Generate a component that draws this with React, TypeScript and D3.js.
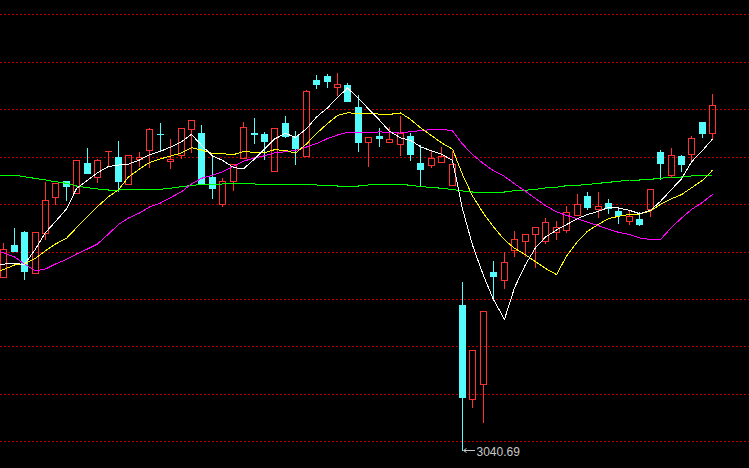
import React from 'react';
import * as d3 from 'd3';

const W = 749;
const H = 468;

const openP = [3109.78, 3122.58, 3127.9, 3111.38, 3127.38, 3142.02, 3148.3, 3143.62, 3155.5, 3149.78,
  3160.18, 3157.9, 3146.98, 3156.98, 3160.7, 3167.1, 3156.1, 3158.7, 3168.98, 3167.5,
  3150.02, 3139.1, 3148.42, 3157.62, 3167.3, 3167.1, 3152.42, 3171.5, 3166.3, 3158.42,
  3188.7, 3190.3, 3186.02, 3186.7, 3177.9, 3163.78, 3166.1, 3163.78, 3162.98, 3166.3,
  3155.62, 3154.58, 3155.9, 3146.58, 3098.7, 3060.98, 3066.98, 3111.9, 3108.58, 3120.82,
  3124.18, 3126.98, 3124.42, 3127.78, 3128.7, 3134.82, 3142.3, 3137.18, 3139.5, 3136.3,
  3132.3, 3133.1, 3137.18, 3159.9, 3150.82, 3158.3, 3158.98, 3171.9, 3167.38];
const highP = [3123.38, 3129.5, 3128.18, 3127.9, 3147.9, 3147.5, 3148.3, 3156.7, 3161.5, 3157.22,
  3160.18, 3164.3, 3158.7, 3159.78, 3169.38, 3171.38, 3164.98, 3169.5, 3172.58, 3170.7,
  3158.02, 3149.62, 3155.1, 3171.9, 3173.38, 3168.02, 3169.38, 3174.3, 3168.3, 3184.7,
  3190.82, 3191.1, 3191.5, 3187.62, 3182.7, 3165.78, 3169.38, 3169.78, 3174.3, 3167.38,
  3162.7, 3160.58, 3161.9, 3160.3, 3107.78, 3080.58, 3096.18, 3116.3, 3119.9, 3128.42,
  3126.98, 3129.78, 3133.5, 3132.3, 3138.3, 3143.1, 3143.9, 3143.78, 3141.1, 3137.9,
  3136.3, 3135.9, 3144.98, 3160.7, 3161.38, 3158.82, 3166.3, 3171.9, 3183.1];
const lowP = [3109.78, 3120.42, 3109.1, 3111.38, 3125.22, 3139.1, 3140.7, 3143.5, 3151.62, 3147.9,
  3154.7, 3144.42, 3146.98, 3154.3, 3154.02, 3160.7, 3153.7, 3157.5, 3159.78, 3147.1,
  3141.38, 3138.42, 3144.7, 3157.5, 3163.62, 3157.1, 3152.42, 3165.9, 3154.98, 3158.42,
  3185.5, 3186.02, 3182.82, 3180.3, 3160.42, 3154.42, 3162.3, 3163.78, 3158.7, 3156.82,
  3146.42, 3154.02, 3155.9, 3146.58, 3040.69, 3058.02, 3052.02, 3102.02, 3105.62, 3118.3,
  3118.3, 3114.02, 3123.62, 3125.22, 3128.02, 3134.82, 3136.98, 3133.9, 3135.38, 3131.62,
  3130.98, 3130.7, 3134.42, 3148.98, 3150.02, 3152.42, 3156.7, 3166.02, 3165.1];
const closeP = [3120.98, 3120.42, 3112.42, 3127.9, 3140.7, 3147.38, 3146.18, 3156.58, 3151.62, 3156.58,
  3160.18, 3148.42, 3158.58, 3158.02, 3168.98, 3166.9, 3156.9, 3169.38, 3172.58, 3147.1,
  3145.62, 3148.18, 3154.98, 3169.78, 3166.9, 3164.42, 3169.38, 3166.3, 3161.62, 3184.18,
  3187.1, 3188.42, 3187.1, 3180.42, 3164.02, 3165.78, 3165.7, 3164.98, 3167.38, 3158.98,
  3152.98, 3157.38, 3158.3, 3155.1, 3062.02, 3080.58, 3096.18, 3110.42, 3115.78, 3124.98,
  3126.98, 3129.78, 3131.78, 3130.02, 3135.78, 3138.98, 3137.9, 3138.3, 3137.62, 3134.7,
  3134.3, 3131.22, 3144.98, 3155.62, 3158.58, 3155.22, 3165.38, 3167.62, 3178.7];

const ma5 = [3114.98, 3115.3, 3114.9, 3121.1, 3127.7, 3132.1, 3137.1, 3145.3, 3148.58, 3151.58,
  3154.1, 3154.66, 3155.06, 3156.7, 3158.82, 3160.18, 3161.86, 3164.02, 3166.94, 3162.58,
  3158.3, 3156.58, 3153.7, 3153.14, 3157.1, 3161.1, 3165.1, 3167.34, 3165.74, 3169.18,
  3173.9, 3177.54, 3181.7, 3185.46, 3181.42, 3177.14, 3172.62, 3168.18, 3165.58, 3164.58,
  3162.02, 3160.34, 3159.02, 3156.54, 3137.14, 3122.66, 3110.42, 3100.86, 3092.98, 3105.58,
  3114.86, 3121.58, 3125.86, 3128.7, 3130.86, 3133.26, 3134.9, 3136.18, 3137.7, 3137.5,
  3136.58, 3135.22, 3136.58, 3140.18, 3144.94, 3149.14, 3155.94, 3160.5, 3165.1];
const ma10 = [3112.3, 3114.7, 3115.1, 3117.38, 3120.42, 3123.1, 3125.38, 3129.62, 3134.02, 3138.06,
  3141.98, 3144.78, 3149.9, 3153.1, 3155.7, 3157.18, 3158.26, 3159.54, 3161.66, 3160.7,
  3159.26, 3159.22, 3158.86, 3160.02, 3159.82, 3159.58, 3160.82, 3160.54, 3159.42, 3163.14,
  3167.3, 3171.3, 3174.5, 3175.58, 3175.3, 3175.42, 3175.06, 3174.94, 3175.5, 3172.98,
  3169.58, 3166.46, 3163.58, 3161.06, 3150.86, 3142.34, 3135.38, 3129.94, 3124.78, 3121.38,
  3118.78, 3116.02, 3113.34, 3110.86, 3118.22, 3124.06, 3128.22, 3131.02, 3133.22, 3134.18,
  3134.9, 3135.06, 3136.38, 3138.94, 3141.22, 3142.86, 3145.58, 3148.54, 3152.62];
const ma20 = [3120.1, 3117.9, 3115.1, 3112.3, 3113.1, 3115.1, 3116.9, 3119.1, 3121.1, 3123.1,
  3127.1, 3130.9, 3133.5, 3135.5, 3137.9, 3139.5, 3141.62, 3144.02, 3147.1, 3149.38,
  3150.62, 3152.02, 3154.14, 3156.22, 3157.54, 3158.38, 3159.54, 3160.02, 3160.54, 3161.9,
  3163.26, 3165.26, 3166.7, 3167.82, 3167.58, 3167.5, 3167.94, 3167.74, 3167.46, 3168.06,
  3168.42, 3168.9, 3169.06, 3168.34, 3163.06, 3158.9, 3155.22, 3152.42, 3150.14, 3147.18,
  3144.18, 3141.26, 3138.46, 3135.94, 3134.54, 3133.22, 3131.82, 3130.46, 3128.98, 3127.78,
  3126.86, 3125.54, 3124.86, 3124.9, 3129.74, 3133.46, 3136.9, 3139.78, 3142.94];
const ma60 = [3150.7, 3150.7, 3150.02, 3149.3, 3148.7, 3148.02, 3147.38, 3146.3, 3145.62, 3145.1,
  3144.7, 3144.7, 3144.9, 3144.98, 3144.98, 3144.98, 3145.38, 3146.02, 3146.5, 3146.9,
  3146.98, 3147.1, 3147.3, 3147.3, 3147.1, 3146.98, 3146.98, 3146.98, 3146.98, 3146.98,
  3146.7, 3146.5, 3146.3, 3146.3, 3146.3, 3146.7, 3146.9, 3146.98, 3146.98, 3146.58,
  3146.02, 3145.78, 3145.38, 3144.9, 3144.3, 3143.9, 3143.9, 3143.9, 3143.9, 3144.42,
  3144.58, 3144.98, 3145.5, 3145.78, 3146.42, 3146.58, 3146.9, 3147.38, 3147.78, 3148.18,
  3148.7, 3148.7, 3148.98, 3149.38, 3149.9, 3149.9, 3150.3, 3150.58, 3150.7];

const gridLevels = [3214.98, 3196.0, 3177.03, 3158.05, 3139.08, 3120.1, 3101.12, 3082.15, 3063.17, 3044.2];

const UP = '#ff3232';
const DOWN = '#54fcfc';

export default function App() {
  const n = openP.length;
  const idx = d3.range(n);
  const x = d3.scaleLinear().domain([0, n - 1]).range([3.3, 712.3]);
  const y = d3.scaleLinear().domain([3220.7, 3033.5]).range([0, H]);

  const lineGen = (vals: number[]) =>
    d3.line<number>()
      .x((_, i) => (i === 0 ? 0 : Math.round(x(i)) + 0.5))
      .y((v) => y(v))(vals) || '';

  const lows = lowP;
  const minI = d3.minIndex(lows);
  const lowX = Math.round(x(minI)) + 0.5;
  const lowY = Math.round(y(lows[minI])) + 0.5;

  return (
    <div style={{ position: 'fixed', left: 0, top: 0, width: W, height: H, background: '#000' }}>
      <svg width={W} height={H} style={{ display: 'block', background: '#000' }}>
        <rect x={0} y={0} width={W} height={H} fill="#000" />
        {gridLevels.map((g, i) => (
          <line key={'g' + i} x1={0} x2={W} y1={Math.round(y(g)) + 0.5} y2={Math.round(y(g)) + 0.5}
            stroke="#c00000" strokeWidth={1} strokeDasharray="2,2" shapeRendering="crispEdges" />
        ))}
        {idx.map((i) => {
          const cx = Math.round(x(i));
          const o = openP[i], c = closeP[i], h = highP[i], l = lowP[i];
          const up = c >= o;
          const top = Math.round(y(Math.max(o, c)));
          const bot = Math.round(y(Math.min(o, c)));
          const yh = Math.round(y(h));
          const yl = Math.round(y(l));
          if (up) {
            return (
              <g key={'c' + i} shapeRendering="crispEdges">
                {yh < top && <line x1={cx + 0.5} x2={cx + 0.5} y1={yh} y2={top} stroke={UP} />}
                {yl > bot && <line x1={cx + 0.5} x2={cx + 0.5} y1={bot + 1} y2={yl + 1} stroke={UP} />}
                {bot - top >= 1 ? (
                  <rect x={cx - 3 + 0.5} y={top + 0.5} width={6} height={bot - top} fill="none" stroke={UP} />
                ) : (
                  <line x1={cx - 3} x2={cx + 4} y1={top + 0.5} y2={top + 0.5} stroke={UP} />
                )}
              </g>
            );
          }
          return (
            <g key={'c' + i} shapeRendering="crispEdges">
              <line x1={cx + 0.5} x2={cx + 0.5} y1={yh} y2={yl + 1} stroke={DOWN} />
              <rect x={cx - 3} y={top} width={7} height={Math.max(1, bot - top + 1)} fill={DOWN} />
            </g>
          );
        })}
        <path d={lineGen(ma60)} fill="none" stroke="#00ff00" strokeWidth={1} shapeRendering="crispEdges" />
        <path d={lineGen(ma20)} fill="none" stroke="#ff00ff" strokeWidth={1} shapeRendering="crispEdges" />
        <path d={lineGen(ma10)} fill="none" stroke="#ffff00" strokeWidth={1} shapeRendering="crispEdges" />
        <path d={lineGen(ma5)} fill="none" stroke="#ffffff" strokeWidth={1} shapeRendering="crispEdges" />
        <g>
          <line x1={lowX + 1} x2={lowX + 12} y1={lowY} y2={lowY} stroke="#c8c8c8" strokeWidth={1} shapeRendering="crispEdges" />
          <path d={`M${lowX + 1},${lowY} l3,-2 M${lowX + 1},${lowY} l3,2`} stroke="#c8c8c8" strokeWidth={1} fill="none" />
          <text x={lowX + 14} y={lowY + 5} fill="#c8c8c8" fontSize={12} fontFamily="Liberation Sans, Arial, sans-serif">
            {lows[minI].toFixed(2)}
          </text>
        </g>
      </svg>
    </div>
  );
}
